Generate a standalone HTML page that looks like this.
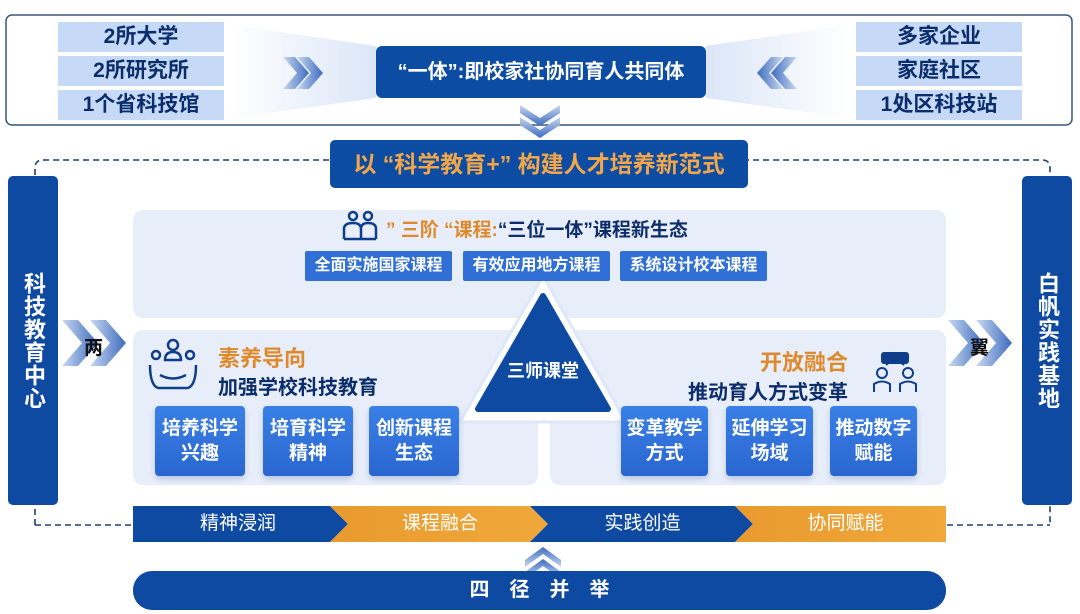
<!DOCTYPE html>
<html><head><meta charset="utf-8"><style>
body{margin:0;width:1080px;height:614px;background:#fff;position:relative;overflow:hidden;font-family:"Liberation Sans","Noto Sans CJK SC",sans-serif}
.a{position:absolute;box-sizing:border-box}
.lab{background:#c6daf8;color:#0c2d6b;font-weight:bold;font-size:21px;text-align:center;line-height:30px;height:30px;width:166px}
.btn{background:#2f6fd6;color:#fff;font-weight:bold;font-size:16px;text-align:center;line-height:30px;height:30px;border-radius:2px}
.box{background:linear-gradient(#3a80e6,#2a66d0);color:#fff;font-weight:bold;font-size:19px;text-align:center;line-height:25px;border-radius:4px;display:flex;align-items:center;justify-content:center;height:70px;box-shadow:0 3px 6px rgba(40,80,160,.25)}
.vbar{background:#0f4aa2;border-radius:5px;color:#fff;font-weight:bold;font-size:22px;writing-mode:vertical-rl;text-align:center;display:flex;align-items:center;justify-content:center;letter-spacing:1px}
</style></head><body>
<svg class="a" style="left:0;top:0" width="1080" height="614">
<defs>
<linearGradient id="fl" x1="0" x2="1"><stop offset="0" stop-color="#fff"/><stop offset="1" stop-color="#dbe6f7"/></linearGradient>
<linearGradient id="fr" x1="1" x2="0"><stop offset="0" stop-color="#fff"/><stop offset="1" stop-color="#dbe6f7"/></linearGradient>
<linearGradient id="ch" x1="0" x2="1"><stop offset="0" stop-color="#c9d8f0"/><stop offset="1" stop-color="#3d6cbf"/></linearGradient>
<linearGradient id="chr" x1="1" x2="0"><stop offset="0" stop-color="#c9d8f0"/><stop offset="1" stop-color="#3d6cbf"/></linearGradient>
<linearGradient id="chd" x1="0" y1="0" x2="0" y2="1"><stop offset="0" stop-color="#c9d8f0"/><stop offset="1" stop-color="#3d6cbf"/></linearGradient>
<linearGradient id="chu" x1="0" y1="1" x2="0" y2="0"><stop offset="0" stop-color="#c9d8f0"/><stop offset="1" stop-color="#3d6cbf"/></linearGradient>
<linearGradient id="or" x1="0" x2="1"><stop offset="0" stop-color="#e99a2e"/><stop offset="1" stop-color="#f0a83a"/></linearGradient>
</defs>
<rect x="6" y="15" width="1066" height="110" rx="6" fill="#fff" stroke="#3a557f" stroke-width="1.5"/>
<polygon points="232,25 376,46 376,98 232,118" fill="url(#fl)"/>
<polygon points="848,25 706,46 706,98 848,118" fill="url(#fr)"/>
<g fill="url(#ch)"><polygon points="283,57 295,57 309,73 295,89 283,89 297,73"/><polygon points="297,57 309,57 323,73 309,89 297,89 311,73"/></g>
<g fill="url(#chr)"><polygon points="797,57 785,57 771,73 785,89 797,89 783,73"/><polygon points="783,57 771,57 757,73 771,89 783,89 769,73"/></g>
<g fill="url(#chd)"><polygon points="520,105 540,118 560,105 560,113 540,126 520,113"/><polygon points="520,117 540,130 560,117 560,125 540,138 520,125"/></g>
<path d="M35,525 V168 Q35,160 43,160 H1042 Q1050,160 1050,168 V525" fill="none" stroke="#1d3f75" stroke-width="1.6" stroke-dasharray="6,4"/>
<path d="M35,525 H133 M947,525 H1050" fill="none" stroke="#1d3f75" stroke-width="1.6" stroke-dasharray="6,4"/>
<rect x="133" y="210" width="813" height="108" rx="10" fill="#e8eef9"/>
<rect x="133" y="330" width="405" height="155" rx="10" fill="#e8eef9"/>
<rect x="550" y="330" width="396" height="155" rx="10" fill="#e8eef9"/>
<polygon points="543,276 460,422 626,422" fill="#fff" stroke="#dfe8f6" stroke-width="3"/>
<polygon points="543,296 478,409 608,409" fill="#0f4aa2" stroke="#0f4aa2" stroke-width="6" stroke-linejoin="round"/>
<g fill="url(#ch)"><polygon points="62,320 78,320 98,343 78,366 62,366 82,343"/><polygon points="90,320 106,320 126,343 106,366 90,366 110,343"/></g>
<g fill="url(#ch)"><polygon points="948,320 964,320 984,343 964,366 948,366 968,343"/><polygon points="976,320 992,320 1012,343 992,366 976,366 996,343"/></g>
<polygon points="133,506 330,506 348,524 330,542 133,542" fill="#0f4aa2"/>
<polygon points="330,506 530,506 548,524 530,542 330,542 348,524" fill="url(#or)"/>
<polygon points="530,506 735,506 753,524 735,542 530,542 548,524" fill="#0f4aa2"/>
<polygon points="735,506 946,506 946,542 735,542 753,524" fill="url(#or)"/>
<g fill="url(#chu)"><polygon points="525,560 543,547 561,560 561,567 543,554 525,567"/><polygon points="525,572 543,559 561,572 561,579 543,566 525,579"/></g>
<rect x="133" y="571" width="813" height="39" rx="19" fill="#0f4aa2"/>
<g fill="none" stroke="#0f3d8c" stroke-width="2.5">
<circle cx="353" cy="216" r="4"/><circle cx="368" cy="216" r="4"/><path d="M344,239 V229 Q344,223 353,223 Q361,223 361,229 V239 M361,229 Q361,223 368,223 Q376,223 376,229 V239 M344,239 H376"/>
<circle cx="173" cy="345" r="5"/><path d="M165,360 Q165,352 173,352 Q181,352 181,360 Z"/><circle cx="156" cy="355" r="4"/><circle cx="190" cy="355" r="4"/><path d="M150,365 Q150,385 158,388 H188 Q196,385 196,365 M160,375 Q173,382 186,375"/>
</g>
<g fill="none" stroke="#0f3d8c" stroke-width="2"><circle cx="882" cy="373" r="5"/><circle cx="908" cy="373" r="5"/><path d="M874,392 V384 Q882,379 890,384 V392 M900,392 V384 Q908,379 916,384 V392 M886,365 L895,358 L904,365"/></g>
<rect x="881" y="352" width="28" height="12" rx="3" fill="#0f3d8c"/>
</svg>
<div class="a lab" style="left:58px;top:22px">2所大学</div>
<div class="a lab" style="left:58px;top:56px">2所研究所</div>
<div class="a lab" style="left:58px;top:90px">1个省科技馆</div>
<div class="a lab" style="left:856px;top:22px">多家企业</div>
<div class="a lab" style="left:856px;top:56px">家庭社区</div>
<div class="a lab" style="left:856px;top:90px">1处区科技站</div>
<div class="a" style="left:376px;top:46px;width:330px;height:52px;background:#0d4ca3;border-radius:6px;color:#fff;font-weight:bold;font-size:20px;line-height:52px;text-align:center">“一体”:即校家社协同育人共同体</div>
<div class="a" style="left:330px;top:140px;width:418px;height:48px;background:#0d4ca3;border-radius:5px;color:#f2a64a;font-weight:bold;font-size:23px;line-height:48px;text-align:center;white-space:nowrap">以 “科学教育+” 构建人才培养新范式</div>
<div class="a vbar" style="left:8px;top:176px;width:50px;height:329px">科技教育中心</div>
<div class="a vbar" style="left:1022px;top:176px;width:50px;height:329px">白帆实践基地</div>
<div class="a" style="left:84px;top:333px;font-size:19px;font-weight:bold;color:#111">两</div>
<div class="a" style="left:970px;top:333px;font-size:19px;font-weight:bold;color:#111">翼</div>
<div class="a" style="left:386px;top:215px;font-size:19px;font-weight:bold;color:#0c2d6b;white-space:nowrap"><span style="color:#e0892c">” 三阶 “课程:</span>“三位一体”课程新生态</div>
<div class="a btn" style="left:305px;top:251px;width:147px">全面实施国家课程</div>
<div class="a btn" style="left:463px;top:251px;width:147px">有效应用地方课程</div>
<div class="a btn" style="left:620px;top:251px;width:147px">系统设计校本课程</div>
<div class="a" style="left:490px;top:357px;width:106px;text-align:center;color:#fff;font-weight:bold;font-size:18px">三师课堂</div>
<div class="a" style="left:218px;top:341px;font-size:22px;font-weight:bold;color:#e0892c">素养导向</div>
<div class="a" style="left:218px;top:371px;font-size:20px;font-weight:bold;color:#0c2d6b">加强学校科技教育</div>
<div class="a box" style="left:155px;top:406px;width:90px">培养科学<br>兴趣</div>
<div class="a box" style="left:263px;top:406px;width:90px">培育科学<br>精神</div>
<div class="a box" style="left:369px;top:406px;width:90px">创新课程<br>生态</div>
<div class="a" style="left:640px;top:345px;width:208px;text-align:right;font-size:22px;font-weight:bold;color:#e0892c">开放融合</div>
<div class="a" style="left:640px;top:376px;width:208px;text-align:right;font-size:20px;font-weight:bold;color:#0c2d6b">推动育人方式变革</div>
<div class="a box" style="left:621px;top:406px;width:87px">变革教学<br>方式</div>
<div class="a box" style="left:726px;top:406px;width:87px">延伸学习<br>场域</div>
<div class="a box" style="left:830px;top:406px;width:87px">推动数字<br>赋能</div>
<div class="a" style="left:133px;top:506px;width:210px;line-height:36px;text-align:center;color:#fff;font-size:19px">精神浸润</div>
<div class="a" style="left:340px;top:506px;width:200px;line-height:36px;text-align:center;color:#fff;font-size:19px">课程融合</div>
<div class="a" style="left:540px;top:506px;width:205px;line-height:36px;text-align:center;color:#fff;font-size:19px">实践创造</div>
<div class="a" style="left:745px;top:506px;width:201px;line-height:36px;text-align:center;color:#fff;font-size:19px">协同赋能</div>
<div class="a" style="left:133px;top:571px;width:813px;line-height:39px;text-align:center;color:#fff;font-weight:bold;font-size:20px;letter-spacing:20px;padding-left:20px">四径并举</div>
</body></html>
